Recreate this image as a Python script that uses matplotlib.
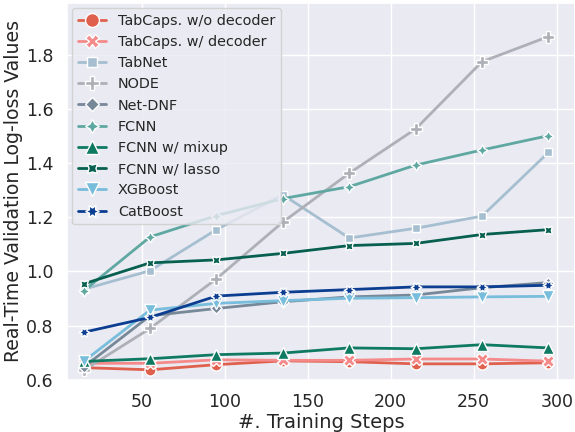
import matplotlib
matplotlib.use("Agg")
import matplotlib.pyplot as plt
import seaborn as sns

sns.set_theme(style="darkgrid")
plt.rcParams['font.family'] = ['DejaVu Sans']

steps = [15, 55, 95, 135, 175, 215, 255, 295]

tabcaps_wo = [0.644, 0.636, 0.655, 0.669, 0.666, 0.658, 0.658, 0.662]
tabcaps_w = [0.660, 0.660, 0.673, 0.671, 0.671, 0.676, 0.676, 0.668]
tabnet = [0.934, 1.003, 1.155, 1.284, 1.124, 1.160, 1.205, 1.441]
node = [0.634, 0.789, 0.973, 1.183, 1.364, 1.528, 1.777, 1.870]
netdnf = [0.646, 0.836, 0.863, 0.888, 0.906, 0.913, 0.940, 0.959]
fcnn = [0.928, 1.128, 1.207, 1.270, 1.314, 1.394, 1.450, 1.503]
fcnn_mixup = [0.667, 0.677, 0.692, 0.698, 0.717, 0.714, 0.729, 0.717]
fcnn_lasso = [0.954, 1.032, 1.043, 1.067, 1.096, 1.104, 1.137, 1.155]
xgboost = [0.667, 0.857, 0.882, 0.892, 0.901, 0.903, 0.906, 0.908]
catboost = [0.775, 0.830, 0.909, 0.923, 0.933, 0.943, 0.943, 0.949]

labels = ["TabCaps. w/o decoder", "TabCaps. w/ decoder", "TabNet", "NODE",
          "Net-DNF", "FCNN", "FCNN w/ mixup", "FCNN w/ lasso", "XGBoost", "CatBoost"]
series = [tabcaps_wo, tabcaps_w, tabnet, node, netdnf, fcnn, fcnn_mixup,
          fcnn_lasso, xgboost, catboost]
colors = ['#e0604e', '#f58a8a', '#a6bfd0', '#aeb0b7', '#778899', '#5fa8a2',
          '#0f7a62', '#07604f', '#78bddb', '#0b3d91']
markers = ["o", "X", (4, 0, 45), "P", (4, 0, 0), (4, 1, 0), "^", (4, 1, 45), "v", (6, 1, 30)]

fig = plt.figure(figsize=(5.75, 4.32), dpi=100)
ax = fig.add_axes([0.116, 0.1215, 0.884, 0.872])

for lab, ys, c, m in zip(labels, series, colors, markers):
    ax.plot(steps, ys, color=c, marker=m, markersize=8, lw=2,
            markeredgecolor='white', markeredgewidth=1.0, label=lab)

ax.set_xlim(4.8, 311)
ax.set_ylim(0.6, 1.995)
ax.set_xticks([50, 100, 150, 200, 250, 300])
ax.set_yticks([0.6, 0.8, 1.0, 1.2, 1.4, 1.6, 1.8])
ax.tick_params(labelsize=12.5)
ax.set_xlabel("#. Training Steps", fontsize=14, labelpad=2)
ax.set_ylabel("Real-Time Validation Log-loss Values", fontsize=13.6, labelpad=2)

ax.legend(loc='upper left', fontsize=10.4, labelspacing=0.5, handlelength=2.0,
          handletextpad=0.8, borderaxespad=0.35, markerscale=1.25)

fig.savefig("out.png", dpi=100)
